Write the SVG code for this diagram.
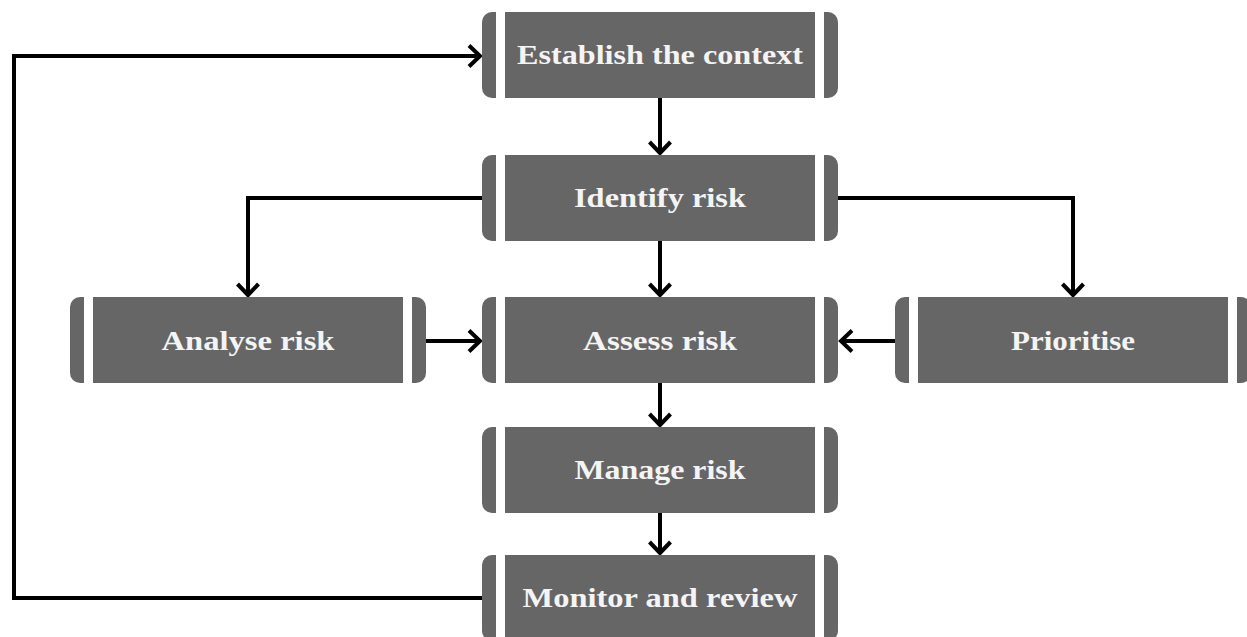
<svg xmlns="http://www.w3.org/2000/svg" xmlns:xlink="http://www.w3.org/1999/xlink" width="1247" height="637" viewBox="0 0 1247 637">
  <style>
    .box { fill: #666666; }
    .lbl { font-family: "Liberation Serif", "DejaVu Serif", serif; font-weight: bold; font-size: 28px; fill: #f4f4f4; text-anchor: middle; }
    .conn { fill: none; stroke: #000000; stroke-width: 4; stroke-linejoin: miter; marker-end: url(#arr); }
    .line { fill: none; stroke: #000000; stroke-width: 4; stroke-linejoin: miter; }
  </style>
  <defs>
    <marker id="arr" markerUnits="userSpaceOnUse" markerWidth="30" markerHeight="30" viewBox="-15 -15 30 30" refX="0" refY="0" orient="auto" overflow="visible">
      <path d="M-11,-10.5 L0,0 L-11,10.5" fill="none" stroke="#000000" stroke-width="4" stroke-linejoin="miter"/>
    </marker>
    <g id="nodeShape">
      <path class="box" d="M14,0 H10 A10,10 0 0 0 0,10 V76 A10,10 0 0 0 10,86 H14 Z"/>
      <rect class="box" x="23" y="0" width="310" height="86"/>
      <path class="box" d="M342,0 H346 A10,10 0 0 1 356,10 V76 A10,10 0 0 1 346,86 H342 Z"/>
    </g>
  </defs>
  <rect x="0" y="0" width="1247" height="637" fill="#ffffff"/>

  <g id="connectors">
    <path class="conn" d="M660,98 V153"/>
    <path class="conn" d="M660,241 V295"/>
    <path class="conn" d="M660,383 V425"/>
    <path class="conn" d="M660,513 V553"/>
    <path class="conn" d="M482,198 H248 V295"/>
    <path class="conn" d="M838,198 H1073 V295"/>
    <path class="conn" d="M426,341 H480"/>
    <path class="conn" d="M895,341 H841"/>
    <path class="conn" d="M482,598 H14 V56 H480"/>
  </g>

  <g id="establish" transform="translate(482,12)">
    <use xlink:href="#nodeShape"/>
    <text class="lbl" x="178" y="52" textLength="286" lengthAdjust="spacingAndGlyphs">Establish the context</text>
  </g>
  <g id="identify" transform="translate(482,155)">
    <use xlink:href="#nodeShape"/>
    <text class="lbl" x="178" y="52" textLength="172" lengthAdjust="spacingAndGlyphs">Identify risk</text>
  </g>
  <g id="assess" transform="translate(482,297)">
    <use xlink:href="#nodeShape"/>
    <text class="lbl" x="178" y="53" textLength="154" lengthAdjust="spacingAndGlyphs">Assess risk</text>
  </g>
  <g id="manage" transform="translate(482,427)">
    <use xlink:href="#nodeShape"/>
    <text class="lbl" x="178" y="52" textLength="171" lengthAdjust="spacingAndGlyphs">Manage risk</text>
  </g>
  <g id="monitor" transform="translate(482,555)">
    <use xlink:href="#nodeShape"/>
    <text class="lbl" x="178" y="52" textLength="275" lengthAdjust="spacingAndGlyphs">Monitor and review</text>
  </g>
  <g id="analyse" transform="translate(70,297)">
    <use xlink:href="#nodeShape"/>
    <text class="lbl" x="178" y="53" textLength="173" lengthAdjust="spacingAndGlyphs">Analyse risk</text>
  </g>
  <g id="prioritise" transform="translate(895,297)">
    <use xlink:href="#nodeShape"/>
    <text class="lbl" x="178" y="53" textLength="124" lengthAdjust="spacingAndGlyphs">Prioritise</text>
  </g>
</svg>
